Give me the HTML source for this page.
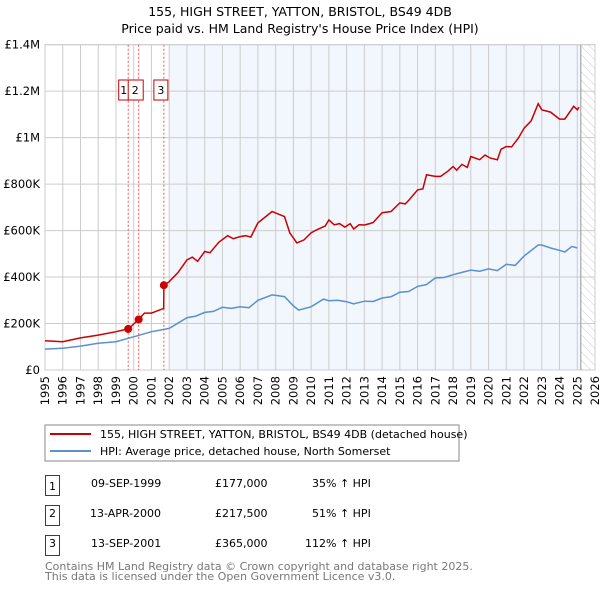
<!DOCTYPE html>
<html><head><meta charset="utf-8"><style>
body{margin:0;background:#fff;font-family:"DejaVu Sans","Liberation Sans",sans-serif;}
svg text{font-family:"DejaVu Sans","Liberation Sans",sans-serif;}
</style></head><body>
<svg id="c" width="600" height="590" viewBox="0 0 600 590" xmlns="http://www.w3.org/2000/svg">
<defs><pattern id="hatch" width="6" height="6" patternUnits="userSpaceOnUse" patternTransform="rotate(-45)"><line x1="0" y1="0" x2="0" y2="6" stroke="#ccc" stroke-width="1"/></pattern></defs>
<text x="300" y="16" text-anchor="middle" font-size="12.5">155, HIGH STREET, YATTON, BRISTOL, BS49 4DB</text>
<text x="300" y="33" text-anchor="middle" font-size="12.5">Price paid vs. HM Land Registry's House Price Index (HPI)</text>
<g id="plot"></g>
<g>
<rect x="45" y="425" width="414" height="36" fill="#fff" stroke="#888"/>
<line x1="50" y1="434" x2="91" y2="434" stroke="#cc0000" stroke-width="2"/>
<text x="100" y="438" font-size="11">155, HIGH STREET, YATTON, BRISTOL, BS49 4DB (detached house)</text>
<line x1="50" y1="451" x2="91" y2="451" stroke="#5b8fd0" stroke-width="2"/>
<text x="100" y="455" font-size="11">HPI: Average price, detached house, North Somerset</text>
</g>
<g font-size="11">
<rect x="45.5" y="475.5" width="14" height="20" fill="none" stroke="#cc0000"/><text x="52.5" y="490" text-anchor="middle">1</text>
<text x="91" y="487">09-SEP-1999</text><text x="215" y="487">£177,000</text><text x="312" y="487">35% ↑ HPI</text>
<rect x="45.5" y="505.5" width="14" height="20" fill="none" stroke="#cc0000"/><text x="52.5" y="517" text-anchor="middle">2</text>
<text x="90" y="517">13-APR-2000</text><text x="215" y="517">£217,500</text><text x="312" y="517">51% ↑ HPI</text>
<rect x="45.5" y="535.5" width="14" height="20" fill="none" stroke="#cc0000"/><text x="52.5" y="547" text-anchor="middle">3</text>
<text x="91" y="547">13-SEP-2001</text><text x="215" y="547">£365,000</text><text x="305" y="547">112% ↑ HPI</text>
</g>
<text x="45" y="570" font-size="11" fill="#777">Contains HM Land Registry data © Crown copyright and database right 2025.</text>
<text x="45" y="580" font-size="11" fill="#777">This data is licensed under the Open Government Licence v3.0.</text>
</svg>
<script>
const hpiYears=[1995,1996,1997,1998,1999,2000,2001,2002,2003,2003.5,2004,2004.5,2005,2005.5,2006,2006.5,2007,2007.8,2008.5,2009,2009.3,2010,2010.7,2011,2011.5,2012,2012.4,2013,2013.5,2014,2014.5,2015,2015.5,2016,2016.5,2017,2017.5,2018,2018.5,2019,2019.5,2020,2020.5,2021,2021.5,2022,2022.8,2023,2023.5,2024,2024.3,2024.7,2025];
const hpiValues=[90000,94000,103000,115000,122000,143000,165000,179000,225000,232000,248000,252000,270000,265000,272000,268000,300000,323000,316000,276000,258000,272000,305000,298000,300000,294000,285000,296000,295000,310000,315000,335000,338000,360000,368000,396000,398000,410000,420000,430000,425000,435000,428000,455000,450000,490000,538000,538000,525000,515000,508000,532000,525000];
const redYears=[1995,1996,1997,1998,1999,1999.69,2000.28,2000.6,2001,2001.69,2001.7,2002,2002.5,2003,2003.3,2003.6,2004,2004.3,2004.8,2005.3,2005.6,2006,2006.3,2006.6,2007,2007.8,2008,2008.5,2008.8,2009.2,2009.6,2010,2010.3,2010.8,2011,2011.3,2011.6,2011.9,2012.2,2012.4,2012.7,2013,2013.3,2013.5,2014,2014.5,2015,2015.3,2015.5,2016,2016.3,2016.5,2017,2017.3,2017.7,2018,2018.2,2018.5,2018.8,2019,2019.5,2019.8,2020.1,2020.5,2020.7,2021,2021.3,2021.7,2022,2022.4,2022.8,2023,2023.5,2024,2024.3,2024.8,2025,2025.1];
const redValues=[126000,122000,138000,150000,165000,177000,217500,245000,245000,265000,365000,380000,420000,474000,486000,468000,510000,505000,550000,578000,565000,574000,578000,572000,633000,682000,676000,660000,590000,547000,560000,590000,603000,620000,646000,625000,630000,615000,630000,607000,625000,624000,630000,635000,677000,682000,719000,715000,730000,775000,780000,840000,833000,833000,855000,876000,860000,885000,872000,919000,905000,925000,912000,905000,950000,962000,960000,1000000,1040000,1072000,1146000,1120000,1110000,1080000,1080000,1135000,1120000,1131000];
const saleYears=[1999.69,2000.28,2001.70];
const saleValues=[177000,217500,365000];
const saleLabels=["1","2","3"];
const yTicks=[0,200000,400000,600000,800000,1000000,1200000,1400000];
const yTickLabels=["£0","£200K","£400K","£600K","£800K","£1M","£1.2M","£1.4M"];
const xTicks=[1995,1996,1997,1998,1999,2000,2001,2002,2003,2004,2005,2006,2007,2008,2009,2010,2011,2012,2013,2014,2015,2016,2017,2018,2019,2020,2021,2022,2023,2024,2025,2026];

const X0=45,X1=595,Y0=370,Y1=44.7;
const xs=y=>X0+(y-1995)/(2026-1995)*(X1-X0);
const ys=v=>Y0-v/1400000*(Y0-Y1);
const NS="http://www.w3.org/2000/svg";
const g=document.getElementById('plot');
function mk(t,a,p){const e=document.createElementNS(NS,t);for(const k in a)e.setAttribute(k,a[k]);(p||g).appendChild(e);return e;}
let e;
e=mk('rect',{x:xs(2002),y:Y1,width:xs(2025.2)-xs(2002),height:Y0-Y1,fill:'#f2f6fd'});


e=mk('rect',{x:xs(2025.2),y:Y1,width:X1-xs(2025.2),height:Y0-Y1,fill:'url(#hatch)'});


yTicks.forEach((v,i)=>{
 mk('line',{x1:X0,x2:X1,y1:ys(v),y2:ys(v),stroke:'#ccc','stroke-width':1});
 e=mk('text',{x:X0-5,y:ys(v)+4,'text-anchor':'end','font-size':11.5});e.textContent=yTickLabels[i];
 
 
});
xTicks.forEach(y=>{
 mk('line',{x1:xs(y),x2:xs(y),y1:Y1,y2:Y0,stroke:'#ccc','stroke-width':1});
 e=mk('text',{x:0,y:0,'text-anchor':'end','font-size':11.5,transform:`translate(${xs(y)+4},${Y0+6}) rotate(-90)`});e.textContent=y;
 
 
});
mk('rect',{x:X0,y:Y1,width:X1-X0,height:Y0-Y1,fill:'none',stroke:'#ccc'});
mk('line',{x1:xs(2025.2),x2:xs(2025.2),y1:Y1,y2:Y0,stroke:'#999','stroke-width':1});
saleYears.forEach((y,i)=>{
 mk('line',{x1:xs(y),x2:xs(y),y1:Y1,y2:Y0,stroke:'#e55','stroke-width':1,'stroke-dasharray':'2,2'});
});
const path=(xa,va)=>xa.map((x,i)=>(i?'L':'M')+xs(x).toFixed(1)+','+ys(va[i]).toFixed(1)).join('');
e=mk('path',{d:path(hpiYears,hpiValues),fill:'none',stroke:'#5b8fd0','stroke-width':1.5});


e=mk('path',{d:path(redYears,redValues),fill:'none',stroke:'#cc0000','stroke-width':1.5});


const boxOff=[-9.5,0,-10];
const boxW=[14,15,14];
saleYears.forEach((y,i)=>{
 e=mk('circle',{cx:xs(y),cy:ys(saleValues[i]),r:4,fill:'#cc0000'});
 
 
 const bx=(i==1?xs(saleYears[0]):xs(y))+boxOff[i];
 e=mk('rect',{x:bx,y:80,width:boxW[i],height:20,fill:'#fff',stroke:'#cc0000'});
 
 
 e=mk('text',{x:bx+(i==0?5:7),y:94,'text-anchor':'middle','font-size':11});e.textContent=saleLabels[i];
 
 
});
</script>
</body></html>
